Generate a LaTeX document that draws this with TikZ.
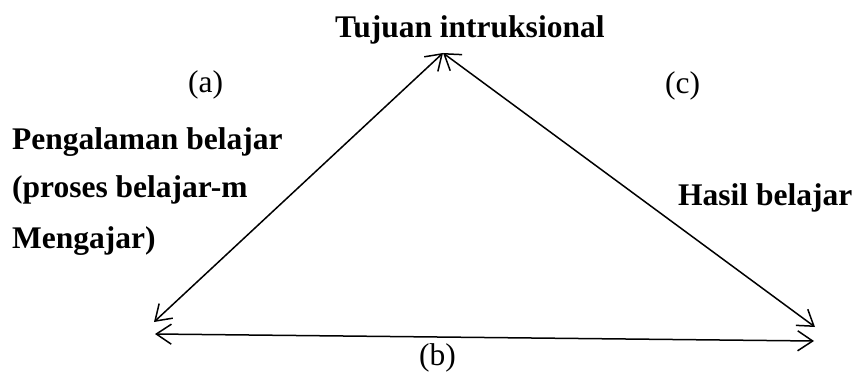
\documentclass[tikz,border=0pt]{standalone}
\usepackage{fontspec}
\setmainfont{Liberation Serif}
\usetikzlibrary{arrows.meta}
\begin{document}
\begin{tikzpicture}[x=1pt,y=-1pt,
  lbl/.style={inner sep=0pt,anchor=base west,font=\fontsize{31.5}{38}\selectfont},
  blbl/.style={lbl,font=\fontsize{31.5}{38}\selectfont\bfseries},
  conn/.style={line width=1.5pt,{Straight Barb[length=15pt,width=20pt,line width=1.5pt]}-{Straight Barb[length=15pt,width=20pt,line width=1.5pt]}}]
\useasboundingbox (0,0) rectangle (856,374);
\coordinate (top) at (443,53);
\coordinate (l1) at (154,322);
\coordinate (r1) at (815,327);
\coordinate (l2) at (155,334);
\coordinate (r2) at (814,341);
\draw[conn] (l1) -- (top);
\draw[conn] (top) -- (r1);
\draw[conn] (l2) -- (r2);
\node[blbl] (tuj) at (335,38) {Tujuan intruksional};
\node[lbl] (a) at (188,93) {(a)};
\node[lbl] (c) at (665,94) {(c)};
\node[lbl] (b) at (419,365) {(b)};
\node[blbl] (p1) at (12,150) {Pengalaman belajar};
\node[blbl] (p2) at (12,197) {(proses belajar-m};
\node[blbl] (p3) at (12,248) {Mengajar)};
\node[blbl] (hasil) at (678,205) {Hasil belajar};
\end{tikzpicture}
\end{document}
